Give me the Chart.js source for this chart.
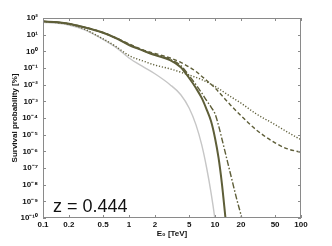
<!DOCTYPE html>
<html>
<head>
<meta charset="utf-8">
<script src="https://cdn.jsdelivr.net/npm/chart.js@4/dist/chart.umd.min.js"></script>
<style>
  html, body { margin: 0; padding: 0; background: #fff; }
  canvas { display: block; }
</style>
</head>
<body>
<canvas id="chart" width="332" height="246"></canvas>
<script>
// tick values
const xTicks = [0.1, 0.2, 0.5, 1, 2, 5, 10, 20, 50, 100]
const yTicks = [1e2, 1e1, 1e0, 1e-1, 1e-2, 1e-3, 1e-4, 1e-5, 1e-6, 1e-7, 1e-8, 1e-9, 1e-10]

// solid dark curve
const eSolid = [0.1, 0.15, 0.2, 0.3, 0.5, 0.7, 1, 1.5, 2, 3, 4, 5, 6, 7, 8, 9, 10, 11, 12, 13, 14]
const pSolid = [63, 55, 45, 28, 13, 6.3, 2.4, 1.05, 0.6, 0.3, 0.11, 0.025, 6.3e-3, 1.6e-3, 3.2e-4, 6.3e-5, 6.3e-6, 4e-7, 1.3e-8, 2.5e-10, 5e-12]

// dash-dot curve
const eDashDot = [0.1, 0.15, 0.2, 0.3, 0.5, 0.7, 1, 1.5, 2, 3, 4, 5, 6, 7, 8, 9, 10, 11, 12, 13, 15, 18, 20, 22]
const pDashDot = [63, 55, 45, 28, 13, 6.3, 2.6, 1.05, 0.65, 0.33, 0.14, 0.035, 0.01, 3.2e-3, 1.1e-3, 4.5e-4, 1.8e-4, 3.5e-5, 5.9e-6, 1.1e-6, 5.4e-8, 1.2e-9, 1.6e-10, 2e-11]

// dashed curve
const eDashed = [0.1, 0.2, 0.3, 0.5, 0.7, 1, 1.5, 2, 3, 4, 5, 6, 7, 8, 10, 15, 20, 30, 50, 70, 100]
const pDashed = [63, 46, 29, 13.5, 6.6, 2.8, 1.15, 0.75, 0.4, 0.22, 0.115, 0.063, 0.032, 0.018, 6.3e-3, 6.3e-4, 1.4e-4, 2e-5, 3.2e-6, 1.4e-6, 8.9e-7]

// dotted curve
const eDotted = [0.1, 0.15, 0.2, 0.3, 0.5, 0.7, 1, 1.5, 2, 3, 4, 5, 7, 10, 15, 20, 30, 50, 70, 100]
const pDotted = [63, 52, 42, 22, 5.6, 2.0, 0.56, 0.25, 0.15, 0.089, 0.056, 0.038, 0.02, 7.9e-3, 2e-3, 7.9e-4, 1.8e-4, 4e-5, 1.4e-5, 5e-6]

// light grey curve
const eGrey = [0.1, 0.15, 0.2, 0.3, 0.5, 0.7, 1, 1.5, 2, 3, 4, 5, 6, 7, 8, 9, 10, 10.5]
const pGrey = [56, 48, 38, 20, 5.2, 1.8, 0.4, 0.11, 0.045, 0.01, 2.5e-3, 4e-4, 4e-5, 2.5e-6, 1e-7, 3.2e-9, 8e-11, 1e-11]

const olive = "#5e5e38"
const sup = {"-": "⁻", "0": "⁰", "1": "¹", "2": "²", "3": "³", "4": "⁴", "5": "⁵", "6": "⁶", "7": "⁷", "8": "⁸", "9": "⁹"}

function toPoints(xs, ys) {
    return xs.map((x, i) => ({x: x, y: ys[i]}))
}

function lineSet(label, xs, ys, color, width, dash) {
    return {
        label: label,
        data: toPoints(xs, ys),
        borderColor: color,
        borderWidth: width,
        borderDash: dash,
        pointRadius: 0,
        fill: false,
        cubicInterpolationMode: "monotone"
    }
}

const frameAndTicks = {
    id: "frameAndTicks",
    afterDraw(chart) {
        const ctx = chart.ctx
        const a = chart.chartArea
        const xs = chart.scales.x
        const ys = chart.scales.y
        ctx.save()
        ctx.strokeStyle = "#8a8a8a"
        ctx.lineWidth = 1
        ctx.strokeRect(a.left + 0.5, a.top + 0.5, a.right - a.left - 1, a.bottom - a.top - 1)
        ctx.beginPath()
        xTicks.forEach(v => {
            let px = Math.round(xs.getPixelForValue(v)) + 0.5
            ctx.moveTo(px, a.bottom); ctx.lineTo(px, a.bottom - 3)
            ctx.moveTo(px, a.top); ctx.lineTo(px, a.top + 3)
        })
        yTicks.forEach(v => {
            let py = Math.round(ys.getPixelForValue(v)) + 0.5
            ctx.moveTo(a.left, py); ctx.lineTo(a.left + 3, py)
            ctx.moveTo(a.right, py); ctx.lineTo(a.right - 3, py)
        })
        ctx.stroke()
        ctx.fillStyle = "#111"
        ctx.font = "18px 'Liberation Sans', Arial, sans-serif"
        ctx.textBaseline = "alphabetic"
        ctx.fillText("z = 0.444", a.left + 10, a.bottom - 6)
        ctx.restore()
    }
}

const chartData = {
    datasets: [
        lineSet("solid", eSolid, pSolid, olive, 2, []),
        lineSet("dash-dot", eDashDot, pDashDot, olive, 1.4, [6, 2, 1.5, 2]),
        lineSet("dashed", eDashed, pDashed, olive, 1.4, [4, 2.5]),
        lineSet("dotted", eDotted, pDotted, olive, 1.4, [1.2, 1.8]),
        lineSet("grey", eGrey, pGrey, "#c6c6c6", 1.4, [])
    ]
}

const tickFont = {family: "'Liberation Sans', Arial, sans-serif", size: 8, weight: "bold"}

const chartConfig = {
    type: "line",
    data: chartData,
    options: {
        responsive: false,
        animation: false,
        layout: {padding: {left: 0, top: 18, right: 31, bottom: 7}},
        plugins: {legend: {display: false}, tooltip: {enabled: false}},
        scales: {
            x: {
                type: "logarithmic",
                min: 0.1,
                max: 100,
                afterBuildTicks: scale => { scale.ticks = xTicks.map(v => ({value: v})) },
                afterFit: scale => { scale.height = 21 },
                ticks: {
                    autoSkip: false,
                    maxRotation: 0,
                    padding: 2,
                    color: "#111",
                    font: tickFont,
                    callback: value => String(value)
                },
                grid: {drawOnChartArea: false, drawTicks: false},
                border: {display: false},
                title: {display: true, text: "E₀ [TeV]", color: "#111", font: tickFont, padding: {top: 0, bottom: 0}}
            },
            y: {
                type: "logarithmic",
                min: 1e-10,
                max: 1e2,
                afterBuildTicks: scale => { scale.ticks = yTicks.map(v => ({value: v})) },
                afterFit: scale => { scale.width = 43 },
                ticks: {
                    autoSkip: false,
                    padding: 5,
                    color: "#111",
                    font: tickFont,
                    callback: value => {
                        let exp = String(Math.round(Math.log10(value)))
                        return "10" + exp.split("").map(c => sup[c]).join("")
                    }
                },
                grid: {drawOnChartArea: false, drawTicks: false},
                border: {display: false},
                title: {display: true, text: "Survival probability [%]", color: "#111", font: tickFont, padding: {top: 10, bottom: 0}}
            }
        }
    },
    plugins: [frameAndTicks]
}

new Chart(document.getElementById("chart").getContext("2d"), chartConfig)
</script>
</body>
</html>
